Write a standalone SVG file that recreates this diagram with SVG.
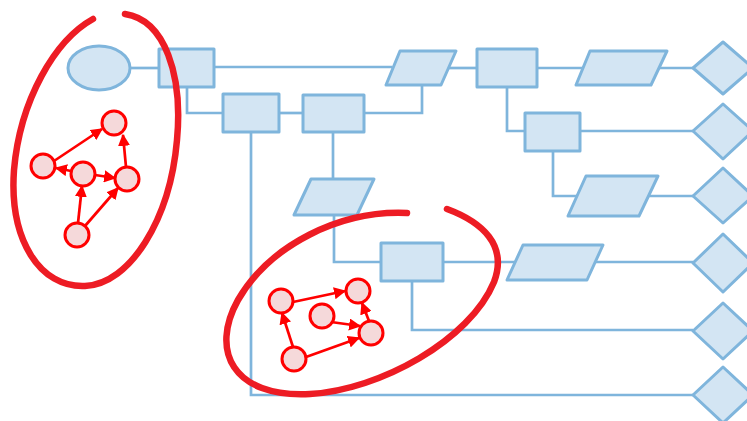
<svg xmlns="http://www.w3.org/2000/svg" width="747" height="421" viewBox="0 0 747 421">
<defs>
<style>
.sh{fill:#d3e5f3;stroke:#7fb5dc;stroke-width:3;stroke-linejoin:round}
.ln{fill:none;stroke:#7fb5dc;stroke-width:2.7}
.rn{fill:#f5d9da;stroke:#ff0000;stroke-width:3}
.re{fill:none;stroke:#ff0000;stroke-width:2.7}
.lasso{fill:none;stroke:#ed1c24;stroke-width:6.5;stroke-linecap:round}
</style>
<marker id="ah" viewBox="0 0 10 10" refX="9" refY="5" markerWidth="4.5" markerHeight="4.5" orient="auto" markerUnits="strokeWidth">
<path d="M0,0 L10,5 L0,10 z" fill="#ff0000"/>
</marker>
</defs>
<rect width="747" height="421" fill="#ffffff"/>
<g id="connectors">
<path class="ln" d="M130,68 H159"/>
<path class="ln" d="M214,67 H392"/>
<path class="ln" d="M448,68 H477"/>
<path class="ln" d="M537,68 H583"/>
<path class="ln" d="M659,68 H693"/>
<path class="ln" d="M187,87 V113 H223"/>
<path class="ln" d="M279,113 H303"/>
<path class="ln" d="M364,113 H422 V85"/>
<path class="ln" d="M333,132 V179"/>
<path class="ln" d="M251,132 V395 H693"/>
<path class="ln" d="M334,215 V262 H381"/>
<path class="ln" d="M443,262 H515"/>
<path class="ln" d="M595,262 H693"/>
<path class="ln" d="M412,281 V330 H693"/>
<path class="ln" d="M507,87 V131 H525"/>
<path class="ln" d="M580,131 H693"/>
<path class="ln" d="M553,151 V196 H577"/>
<path class="ln" d="M648,196 H693"/>
</g>
<g id="start"><ellipse class="sh" cx="99" cy="68" rx="31" ry="22"/></g>
<g id="boxA"><rect class="sh" x="159" y="49" width="55" height="38"/></g>
<g id="boxB"><rect class="sh" x="223" y="94" width="56" height="38"/></g>
<g id="boxC"><rect class="sh" x="303" y="95" width="61" height="37"/></g>
<g id="boxD"><rect class="sh" x="381" y="243" width="62" height="38"/></g>
<g id="boxE"><rect class="sh" x="477" y="49" width="60" height="38"/></g>
<g id="boxF"><rect class="sh" x="525" y="113" width="55" height="38"/></g>
<g id="para1"><polygon class="sh" points="400,51 456,51 441,85 386,85"/></g>
<g id="para2"><polygon class="sh" points="311,179 374,179 357,215 294,215"/></g>
<g id="para3"><polygon class="sh" points="523,245 603,245 587,280 507,280"/></g>
<g id="para4"><polygon class="sh" points="590,51 667,51 651,85 576,85"/></g>
<g id="para5"><polygon class="sh" points="586,176 658,176 639,216 568,216"/></g>
<g id="dia1"><polygon class="sh" points="723,42 753,68 723,94 693,68"/></g>
<g id="dia2"><polygon class="sh" points="723,104 753,131 723,159 693,131"/></g>
<g id="dia3"><polygon class="sh" points="723,168 753,196 723,223 693,196"/></g>
<g id="dia4"><polygon class="sh" points="723,234 753,263 723,292 693,263"/></g>
<g id="dia5"><polygon class="sh" points="723,303 753,331 723,359 693,331"/></g>
<g id="dia6"><polygon class="sh" points="723,367 753,395 723,423 693,395"/></g>
<g id="lasso1"><path class="lasso" d="M93,19 C55,40 20,100 14,170 C9,240 40,288 85,286 C130,284 170,220 177,140 C183,75 165,20 125,14"/></g>
<g id="lasso2"><path class="lasso" d="M407,213 C340,210 270,245 238,300 C210,350 232,398 310,394 C380,390 470,340 494,282 C508,245 482,222 447,209"/></g>
<g id="graph1-edges">
<line class="re" x1="54" y1="161" x2="102" y2="129" marker-end="url(#ah)"/>
<line class="re" x1="71" y1="171" x2="56" y2="168" marker-end="url(#ah)"/>
<line class="re" x1="95" y1="175" x2="115" y2="178" marker-end="url(#ah)"/>
<line class="re" x1="126" y1="167" x2="123" y2="135" marker-end="url(#ah)"/>
<line class="re" x1="78" y1="223" x2="82" y2="186" marker-end="url(#ah)"/>
<line class="re" x1="85" y1="226" x2="118" y2="188" marker-end="url(#ah)"/>
</g>
<g id="g1n1"><circle class="rn" cx="114" cy="123" r="12"/></g>
<g id="g1n2"><circle class="rn" cx="43" cy="166" r="12"/></g>
<g id="g1n3"><circle class="rn" cx="83" cy="174" r="12"/></g>
<g id="g1n4"><circle class="rn" cx="127" cy="179" r="12"/></g>
<g id="g1n5"><circle class="rn" cx="77" cy="235" r="12"/></g>
<g id="graph2-edges">
<line class="re" x1="293" y1="302" x2="345" y2="291" marker-end="url(#ah)"/>
<line class="re" x1="331" y1="322" x2="360" y2="326" marker-end="url(#ah)"/>
<line class="re" x1="369" y1="321" x2="362" y2="303" marker-end="url(#ah)"/>
<line class="re" x1="293" y1="347" x2="282" y2="313" marker-end="url(#ah)"/>
<line class="re" x1="306" y1="357" x2="359" y2="338" marker-end="url(#ah)"/>
</g>
<g id="g2n1"><circle class="rn" cx="281" cy="301" r="12"/></g>
<g id="g2n2"><circle class="rn" cx="358" cy="291" r="12"/></g>
<g id="g2n3"><circle class="rn" cx="322" cy="316" r="12"/></g>
<g id="g2n4"><circle class="rn" cx="371" cy="333" r="12"/></g>
<g id="g2n5"><circle class="rn" cx="294" cy="359" r="12"/></g>
</svg>
